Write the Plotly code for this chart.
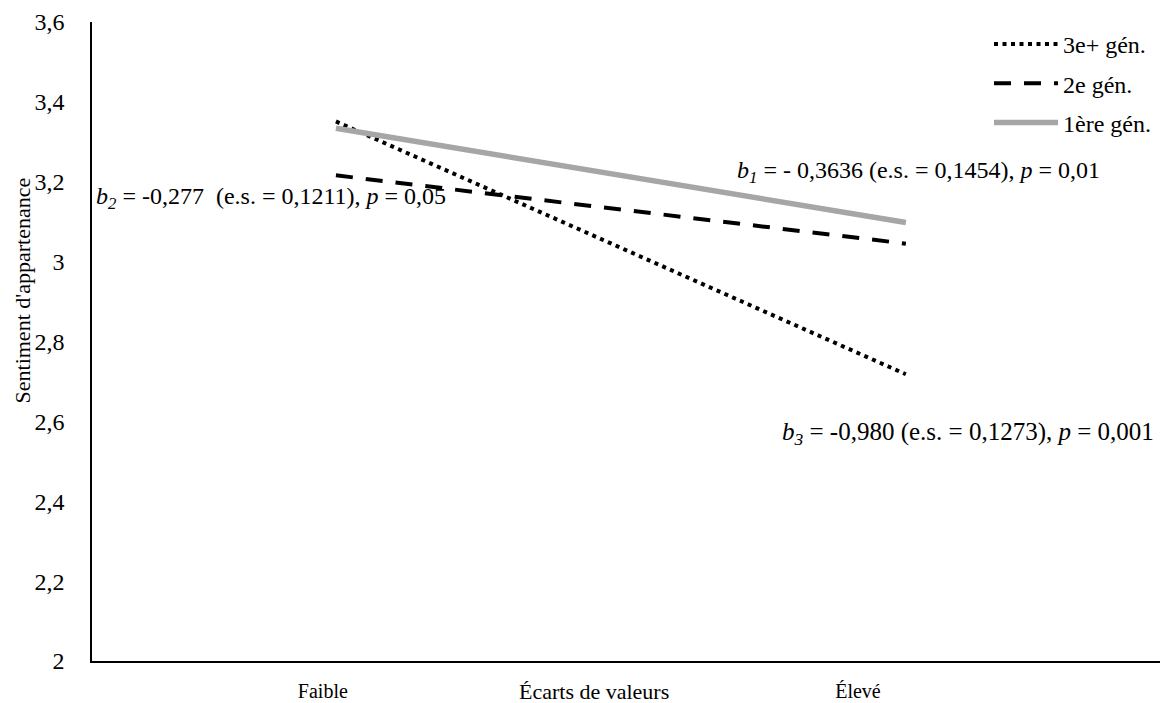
import plotly.graph_objects as go

# ---- data ----
categories = ["Faible", "Élevé"]
series_names = ["3e+ gén.", "2e gén.", "1ère gén."]
gen3_values = [3.351, 2.718]
gen2_values = [3.216, 3.045]
gen1_values = [3.334, 3.098]
y_tick_values = [2, 2.2, 2.4, 2.6, 2.8, 3, 3.2, 3.4, 3.6]
y_tick_labels = ["2", "2,2", "2,4", "2,6", "2,8", "3", "3,2", "3,4", "3,6"]
x_title = "Écarts de valeurs"
y_title = "Sentiment d'appartenance"
slope_texts = [
    "<i>b</i><sub><i>2</i></sub> = -0,277&nbsp; (e.s. = 0,1211), <i>p</i> = 0,05",
    "<i>b</i><sub><i>1</i></sub> = - 0,3636 (e.s. = 0,1454), <i>p</i> = 0,01",
    "<i>b</i><sub><i>3</i></sub> = -0,980 (e.s. = 0,1273), <i>p</i> = 0,001",
]

FONT = "Liberation Serif, Times New Roman, serif"
x_idx = list(range(len(categories)))
# category labels sit slightly left of the line ends in the reference
x_label_pos = [-0.023, 0.916]

fig = go.Figure()
fig.add_trace(go.Scatter(
    x=x_idx, y=gen3_values, mode="lines", name=series_names[0], legendgroup="g3",
    line=dict(color="black", width=4, dash="4px,4.5px"),
))
fig.add_trace(go.Scatter(
    x=x_idx, y=gen2_values, mode="lines", name=series_names[1], legendgroup="g2",
    line=dict(color="black", width=4, dash="17px,13px"),
))
fig.add_trace(go.Scatter(
    x=x_idx, y=gen1_values, mode="lines", name=series_names[2], legendgroup="g1",
    line=dict(color="#A6A6A6", width=5.5),
))

fig.update_layout(
    width=1168, height=703,
    margin=dict(l=84, r=0, t=14, b=50),
    plot_bgcolor="white", paper_bgcolor="white",
    font=dict(family=FONT, size=22, color="black"),
    showlegend=True,
    legend=dict(
        x=0.8275, y=1.0, xanchor="left", yanchor="top",
        font=dict(family=FONT, size=24, color="black"),
        itemwidth=64, tracegroupgap=5, traceorder="grouped",
        bgcolor="rgba(0,0,0,0)",
    ),
    xaxis=dict(
        range=[-0.428, 1.474], tickvals=x_label_pos, ticktext=categories,
        showline=True, linecolor="black", linewidth=2,
        showgrid=False, zeroline=False, ticks="",
        tickfont=dict(family=FONT, size=20, color="black"),
        ticklabelstandoff=11,
    ),
    yaxis=dict(
        range=[2, 3.6], tickvals=y_tick_values, ticktext=y_tick_labels,
        showline=True, linecolor="black", linewidth=1.5,
        showgrid=False, zeroline=False, ticks="",
        tickfont=dict(family=FONT, size=24, color="black"),
        ticklabelstandoff=21,
    ),
)

# axis titles
fig.add_annotation(text=x_title, x=0.4526, xref="x", y=-0.048, yref="paper",
                   showarrow=False, xanchor="center", yanchor="middle",
                   font=dict(family=FONT, size=22, color="black"))
fig.add_annotation(text=y_title, x=-0.0645, xref="paper", y=0.58, yref="paper",
                   textangle=-90, showarrow=False, xanchor="center", yanchor="middle",
                   font=dict(family=FONT, size=22, color="black"))

# slope annotations
slope_pos = [(-0.4246, 3.16, 24), (0.6997, 3.225, 24), (0.7786, 2.57, 25)]
for txt, (ax, ay, fs) in zip(slope_texts, slope_pos):
    fig.add_annotation(text=txt, x=ax, y=ay, xref="x", yref="y",
                       showarrow=False, xanchor="left", yanchor="middle",
                       font=dict(family=FONT, size=fs, color="black"))

fig.write_html("out.html")
